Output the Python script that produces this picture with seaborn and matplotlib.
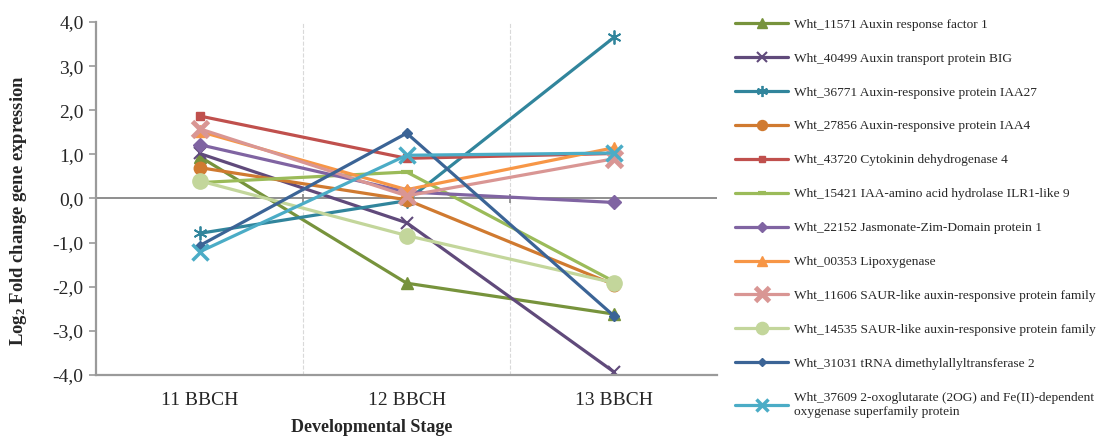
import numpy as np
import pandas as pd
import matplotlib
matplotlib.use("Agg")
import matplotlib.pyplot as plt
from matplotlib.ticker import FuncFormatter
import seaborn as sns

# values
stages = ["11 BBCH", "12 BBCH", "13 BBCH"]

genes = [
    "Wht_11571 Auxin response factor 1",
    "Wht_40499 Auxin transport protein BIG",
    "Wht_36771 Auxin-responsive protein IAA27",
    "Wht_27856 Auxin-responsive protein IAA4",
    "Wht_43720 Cytokinin dehydrogenase 4",
    "Wht_15421 IAA-amino acid hydrolase ILR1-like 9",
    "Wht_22152 Jasmonate-Zim-Domain protein 1",
    "Wht_00353 Lipoxygenase",
    "Wht_11606 SAUR-like auxin-responsive protein family",
    "Wht_14535 SAUR-like auxin-responsive protein family",
    "Wht_31031 tRNA dimethylallyltransferase 2",
    "Wht_37609 2-oxoglutarate (2OG) and Fe(II)-dependent\noxygenase superfamily protein",
]

wht_11571 = [0.95, -1.92, -2.62]
wht_40499 = [1.02, -0.55, -3.93]
wht_36771 = [-0.79, -0.05, 3.65]
wht_27856 = [0.70, -0.03, -1.95]
wht_43720 = [1.87, 0.91, 1.02]
wht_15421 = [0.36, 0.60, -1.88]
wht_22152 = [1.22, 0.15, -0.09]
wht_00353 = [1.52, 0.20, 1.15]
wht_11606 = [1.58, 0.06, 0.90]
wht_14535 = [0.40, -0.84, -1.91]
wht_31031 = [-1.07, 1.48, -2.66]
wht_37609 = [-1.21, 0.98, 1.03]

series = [wht_11571, wht_40499, wht_36771, wht_27856, wht_43720, wht_15421,
          wht_22152, wht_00353, wht_11606, wht_14535, wht_31031, wht_37609]

colors = ["#77933C", "#604A7B", "#31859C", "#D07A30", "#C0504D", "#9BBB59",
          "#8064A2", "#F79646", "#D99694", "#C3D69B", "#3B6496", "#4BACC6"]
markers = ["^", "x", (6, 2, 0), "o", "s", "_", "D", "^", "x", "o", "D", "x"]
msizes = [9, 9, 10, 9, 6, 8, 7, 9, 12, 11, 5, 11]
mews = [1, 1.5, 1.3, 1, 1, 3, 1, 1, 3.5, 1, 1, 2.5]

sns.set_style("white")
plt.rcParams["font.family"] = ["Liberation Serif", "DejaVu Serif"]
plt.rcParams["mathtext.default"] = "regular"

fig = plt.figure(figsize=(10.96, 4.36), dpi=100)
ax = fig.add_axes([0.0876, 0.140, 0.567, 0.8095])

for gene, vals, c, m, ms, mw in zip(genes, series, colors, markers, msizes, mews):
    df = pd.DataFrame({"stage": stages, "value": vals})
    sns.lineplot(data=df, x="stage", y="value", ax=ax, color=c, marker=m,
                 markersize=ms, markeredgewidth=mw, markeredgecolor=c,
                 linewidth=2.3, label=gene, sort=False)

ax.set_xlim(-0.5, 2.5)
ax.set_ylim(-4, 4)
ax.set_yticks(np.arange(-4, 4.1, 1))
ax.yaxis.set_major_formatter(FuncFormatter(lambda v, p: f"{v:.1f}".replace(".", ",")))

for b in [0.5, 1.5]:
    ax.axvline(b, color="#D9D9D9", lw=0.8, ls="--", zorder=0)
ax.axhline(0, color="#868686", lw=1.3, zorder=1)
ax.vlines([0.5, 1.5], -0.1, 0.1, color="#868686", lw=1.2, zorder=1)

for s in ["top", "right"]:
    ax.spines[s].set_visible(False)
for s in ["left", "bottom"]:
    ax.spines[s].set_color("#9A9A9A")
    ax.spines[s].set_linewidth(1.6)

ax.tick_params(axis="y", direction="out", length=5, width=1.2, color="#9A9A9A",
               labelsize=14, pad=4, left=True)
ax.tick_params(axis="x", length=0, labelsize=14, pad=12)

ax.set_xlabel("Developmental Stage", fontsize=13, fontweight="bold")
ax.xaxis.set_label_coords(0.444, -0.124)
ax.set_ylabel("Log$_2$ Fold change gene expression", fontsize=13.4, fontweight="bold")
ax.yaxis.set_label_coords(-0.108, 0.465)

ax.legend(loc="upper left", bbox_to_anchor=(0.6706, 0.958),
          bbox_transform=fig.transFigure, frameon=False, fontsize=9.6,
          handlelength=4.0, handletextpad=0.4, labelspacing=1.62,
          markerscale=0.8, borderpad=0, borderaxespad=0)
for t in ax.get_legend().get_texts():
    t.set_linespacing(1.3)

fig.savefig("out.png", dpi=100)
